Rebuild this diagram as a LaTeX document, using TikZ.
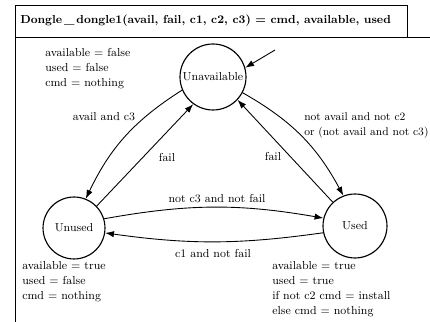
\documentclass[tikz,border=0pt]{standalone}
\usetikzlibrary{arrows.meta}
\begin{document}
\begin{tikzpicture}[x=0.794pt,y=0.794pt,
  every node/.style={font=\fontsize{9.2pt}{11.9pt}\selectfont},
  state/.style={draw,circle,line width=0.9pt,inner sep=0pt},
  trans/.style={-{Latex[length=7pt,width=5pt]},line width=0.7pt},
  lbl/.style={inner sep=0pt},
  outs/.style={align=left,anchor=north west,inner sep=0pt}]
\useasboundingbox (0,0) rectangle (430,-322);
% frame
\draw[line width=0.6pt] (15,-37) rectangle (407,-5);
\draw[line width=0.6pt] (15,-37) -- (430,-37);
\draw[line width=0.6pt] (15,-37) -- (15,-322);
\node[anchor=west,inner sep=0pt,font=\fontsize{9.2pt}{11.9pt}\selectfont\bfseries] (title) at (20,-21) {Dongle\,\_\,dongle1(avail, fail, c1, c2, c3) = cmd, available, used};
% states
\node[state,minimum size=52.4pt] (una) at (213,-77) {Unavailable};
\node[state,minimum size=49.2pt] (unu) at (74,-228) {Unused};
\node[state,minimum size=50.8pt] (use) at (355,-226) {Used};
% outputs
\node[outs] (o1) at (45,-48) {available = false\\used = false\\cmd = nothing};
\node[outs] (o2) at (22,-261) {available = true\\used = false\\cmd = nothing};
\node[outs] (o3) at (272,-261) {available = true\\used = true\\if not c2 cmd = install\\else cmd = nothing};
% initial
\coordinate (init) at (275,-50);
\draw[trans] (init) -- (una.16);
% transitions
\draw[trans] (una.203) to[bend right=16] (unu.68);
\draw[trans] (unu.44) -- (una.234);
\draw[trans] (una.332) to[bend left=16] (use.111);
\draw[trans] (use.133) -- (una.317);
\draw[trans] (unu.17) to[bend left=10] (use.166);
\draw[trans] (use.192) to[bend left=8] (unu.-9);
% labels
\node[lbl] (l1) at (104,-117) {avail and c3};
\node[lbl] (l2) at (167,-157) {fail};
\node[lbl] (l3) at (273,-156) {fail};
\node[outs,font=\fontsize{8.9pt}{11.9pt}\selectfont] (l4) at (304,-112) {not avail and not c2\\or (not avail and not c3)};
\node[lbl] (l5) at (217,-199) {not c3 and not fail};
\node[lbl] (l6) at (213,-253) {c1 and not fail};
\end{tikzpicture}
\end{document}
